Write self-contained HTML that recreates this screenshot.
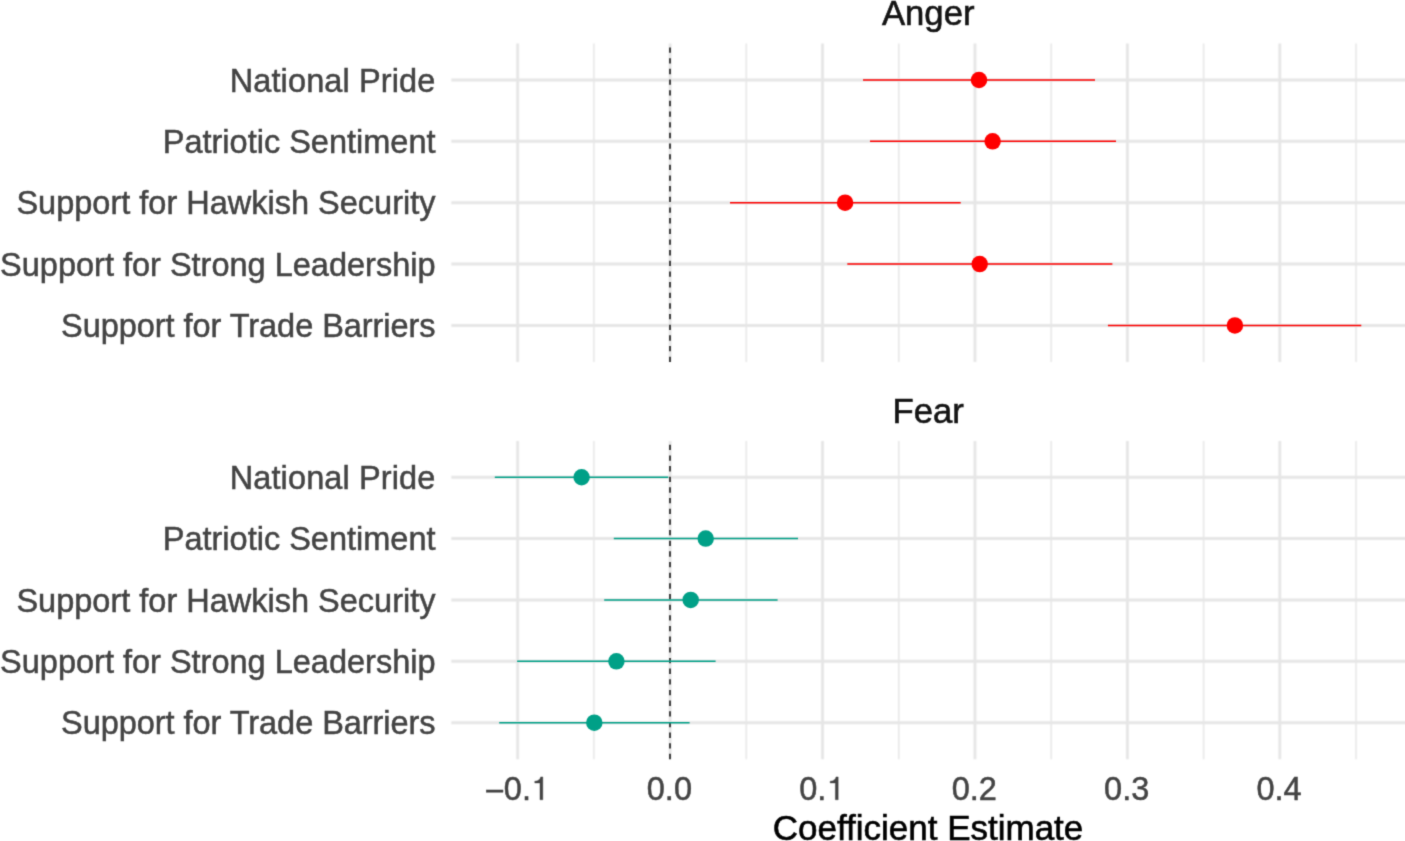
<!DOCTYPE html>
<html><head><meta charset="utf-8"><title>Coefficient plot</title>
<style>
html,body{margin:0;padding:0;background:#fff;}
body{width:1405px;height:841px;overflow:hidden;font-family:"Liberation Sans",sans-serif;}
svg{display:block;will-change:transform;}
text{font-family:"Liberation Sans",sans-serif;}
.ax{font-size:32.5px;fill:#444444;stroke:#444444;stroke-width:0.5px;}
.gl{fill:#444444;stroke:#444444;stroke-width:0.4px;}
.st{font-size:34.7px;fill:#141414;stroke:#141414;stroke-width:0.6px;}
.ti{font-size:35px;fill:#000;stroke:#000;stroke-width:0.6px;}
.g line{stroke:#E6E6E6;}
.mn{stroke-width:1.5;} .mj{stroke-width:2.85;} .hz{stroke-width:3.0;}
.zero{stroke:#333333;stroke-width:1.8;stroke-dasharray:5.33 5.33;}
.a line{stroke:#FF0000;stroke-width:1.5;} .a circle{fill:#FF0000;}
.f line{stroke:#00A087;stroke-width:1.5;} .f circle{fill:#00A087;}
</style></head><body>
<svg width="1405" height="841" viewBox="0 0 1405 841">
<defs>
<filter id="bl" x="0" y="0" width="1405" height="841" filterUnits="userSpaceOnUse" color-interpolation-filters="sRGB"><feConvolveMatrix order="3" kernelMatrix="1 2 1 2 4 2 1 2 1" divisor="16" edgeMode="duplicate" preserveAlpha="false"/></filter>
<filter id="bt" x="0" y="0" width="1405" height="841" filterUnits="userSpaceOnUse" color-interpolation-filters="sRGB"><feConvolveMatrix order="3" kernelMatrix="1 5 1 5 25 5 1 5 1" divisor="49" edgeMode="duplicate" preserveAlpha="false"/></filter>
</defs>
<!-- background + panel grids -->
<g class="g" filter="url(#bl)">
<rect x="-5" y="-5" width="1415" height="851" fill="#ffffff"/>
<line class="mn" x1="593.88" y1="43.6" x2="593.88" y2="362.0"/>
<line class="mn" x1="746.32" y1="43.6" x2="746.32" y2="362.0"/>
<line class="mn" x1="898.75" y1="43.6" x2="898.75" y2="362.0"/>
<line class="mn" x1="1051.18" y1="43.6" x2="1051.18" y2="362.0"/>
<line class="mn" x1="1203.61" y1="43.6" x2="1203.61" y2="362.0"/>
<line class="mn" x1="1356.04" y1="43.6" x2="1356.04" y2="362.0"/>
<line class="mj" x1="517.67" y1="43.6" x2="517.67" y2="362.0"/>
<line class="mj" x1="670.10" y1="43.6" x2="670.10" y2="362.0"/>
<line class="mj" x1="822.53" y1="43.6" x2="822.53" y2="362.0"/>
<line class="mj" x1="974.96" y1="43.6" x2="974.96" y2="362.0"/>
<line class="mj" x1="1127.39" y1="43.6" x2="1127.39" y2="362.0"/>
<line class="mj" x1="1279.82" y1="43.6" x2="1279.82" y2="362.0"/>
<line class="hz" x1="451.3" y1="80.00" x2="1406" y2="80.00"/>
<line class="hz" x1="451.3" y1="141.35" x2="1406" y2="141.35"/>
<line class="hz" x1="451.3" y1="202.70" x2="1406" y2="202.70"/>
<line class="hz" x1="451.3" y1="264.05" x2="1406" y2="264.05"/>
<line class="hz" x1="451.3" y1="325.40" x2="1406" y2="325.40"/>
<line class="mn" x1="593.88" y1="440.9" x2="593.88" y2="759.2"/>
<line class="mn" x1="746.32" y1="440.9" x2="746.32" y2="759.2"/>
<line class="mn" x1="898.75" y1="440.9" x2="898.75" y2="759.2"/>
<line class="mn" x1="1051.18" y1="440.9" x2="1051.18" y2="759.2"/>
<line class="mn" x1="1203.61" y1="440.9" x2="1203.61" y2="759.2"/>
<line class="mn" x1="1356.04" y1="440.9" x2="1356.04" y2="759.2"/>
<line class="mj" x1="517.67" y1="440.9" x2="517.67" y2="759.2"/>
<line class="mj" x1="670.10" y1="440.9" x2="670.10" y2="759.2"/>
<line class="mj" x1="822.53" y1="440.9" x2="822.53" y2="759.2"/>
<line class="mj" x1="974.96" y1="440.9" x2="974.96" y2="759.2"/>
<line class="mj" x1="1127.39" y1="440.9" x2="1127.39" y2="759.2"/>
<line class="mj" x1="1279.82" y1="440.9" x2="1279.82" y2="759.2"/>
<line class="hz" x1="451.3" y1="477.25" x2="1406" y2="477.25"/>
<line class="hz" x1="451.3" y1="538.60" x2="1406" y2="538.60"/>
<line class="hz" x1="451.3" y1="599.95" x2="1406" y2="599.95"/>
<line class="hz" x1="451.3" y1="661.30" x2="1406" y2="661.30"/>
<line class="hz" x1="451.3" y1="722.65" x2="1406" y2="722.65"/>
</g>
<!-- zero reference lines, estimates with intervals, text -->
<g filter="url(#bt)">
<line class="zero" x1="670.00" y1="362.0" x2="670.00" y2="43.6"/>
<g class="a">
<line x1="863.0" y1="80.00" x2="1095.0" y2="80.00"/><circle cx="979.0" cy="80.00" r="8.25"/>
<line x1="870.0" y1="141.35" x2="1116.0" y2="141.35"/><circle cx="992.6" cy="141.35" r="8.25"/>
<line x1="730.0" y1="202.70" x2="960.7" y2="202.70"/><circle cx="845.1" cy="202.70" r="8.25"/>
<line x1="847.3" y1="264.05" x2="1112.4" y2="264.05"/><circle cx="979.7" cy="264.05" r="8.25"/>
<line x1="1107.9" y1="325.40" x2="1361.3" y2="325.40"/><circle cx="1234.9" cy="325.40" r="8.25"/>
</g>
<line class="zero" x1="670.00" y1="759.2" x2="670.00" y2="440.9"/>
<g class="f">
<line x1="494.8" y1="477.25" x2="668.3" y2="477.25"/><circle cx="581.6" cy="477.25" r="8.25"/>
<line x1="613.8" y1="538.60" x2="798.0" y2="538.60"/><circle cx="705.7" cy="538.60" r="8.25"/>
<line x1="604.2" y1="599.95" x2="777.6" y2="599.95"/><circle cx="690.7" cy="599.95" r="8.25"/>
<line x1="517.1" y1="661.30" x2="715.6" y2="661.30"/><circle cx="616.4" cy="661.30" r="8.25"/>
<line x1="499.2" y1="722.65" x2="689.6" y2="722.65"/><circle cx="594.3" cy="722.65" r="8.25"/>
</g>
<text class="ax" x="435.5" y="92" text-anchor="end" letter-spacing="0.12">National Pride</text>
<text class="ax" x="435.5" y="153" text-anchor="end">Patriotic Sentiment</text>
<text class="ax" x="435.5" y="214" text-anchor="end">Support for Hawkish Security</text>
<text class="ax" x="435.5" y="276" text-anchor="end">Support for Strong Leadership</text>
<text class="ax" x="435.5" y="337" text-anchor="end" letter-spacing="-0.05">Support for Trade Barriers</text>
<text class="ax" x="435.5" y="489" text-anchor="end" letter-spacing="0.12">National Pride</text>
<text class="ax" x="435.5" y="550" text-anchor="end">Patriotic Sentiment</text>
<text class="ax" x="435.5" y="612" text-anchor="end">Support for Hawkish Security</text>
<text class="ax" x="435.5" y="673" text-anchor="end">Support for Strong Leadership</text>
<text class="ax" x="435.5" y="734" text-anchor="end" letter-spacing="-0.05">Support for Trade Barriers</text>
<text class="st" x="928.2" y="25" text-anchor="middle">Anger</text>
<text class="st" x="928.2" y="423" text-anchor="middle">Fear</text>
<rect class="gl" x="486.24" y="789.95" width="16.8" height="2.3"/>
<text class="ax" x="503.87" y="799.8">0.</text>
<path class="gl" transform="translate(531.68,799.8)" d="M11.15,0 L11.15,-22.9 L9.0,-22.9 C8.4,-20.4 6.5,-18.8 3.1,-18.6 L3.1,-16.8 L8.3,-16.8 L8.3,0 Z"/>
<text class="ax" x="669.4" y="799.8" text-anchor="middle">0.0</text>
<text class="ax" x="799.24" y="799.8">0.</text>
<path class="gl" transform="translate(827.05,799.8)" d="M11.15,0 L11.15,-22.9 L9.0,-22.9 C8.4,-20.4 6.5,-18.8 3.1,-18.6 L3.1,-16.8 L8.3,-16.8 L8.3,0 Z"/>
<text class="ax" x="974.3" y="799.8" text-anchor="middle">0.2</text>
<text class="ax" x="1126.7" y="799.8" text-anchor="middle">0.3</text>
<text class="ax" x="1279.1" y="799.8" text-anchor="middle">0.4</text>
<text class="ti" x="928" y="840" text-anchor="middle">Coefficient Estimate</text>
</g></svg></body></html>
